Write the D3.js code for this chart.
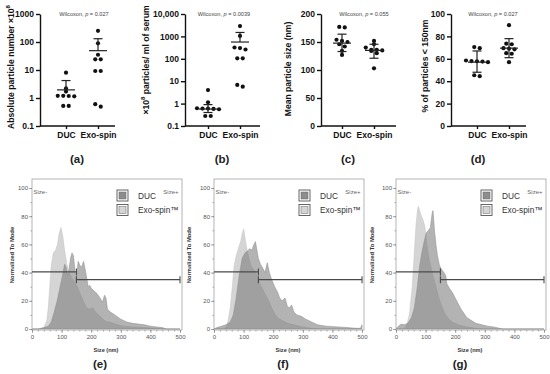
<!DOCTYPE html>
<html>
<head>
<script src="https://d3js.org/d3.v7.min.js"></script>
<style>
  body { margin: 0; background: #fff; }
  text { font-family: "Liberation Sans", Arial, sans-serif; }
</style>
</head>
<body>
<div id="chart"></div>
<script>
// ---- top row: dot plots ----
const groups = ["DUC", "Exo-spin"];

const aDuc = [8.0, 2.2, 1.7, 1.2, 1.18, 1.15, 1.2, 0.52, 0.52];
const aExo = [250, 90, 35, 24, 24, 9.2, 9.2, 0.49, 0.6];
const aMean = [1.95, 49], aHi = [4.2, 131], aLo = [null, null];

const bDuc = [4.0, 1.15, 0.62, 0.6, 0.58, 0.56, 0.6, 0.28, 0.28];
const bExo = [2900, 1050, 300, 320, 260, 105, 105, 5.7, 6.8];
const bMean = [0.57, 560], bHi = [0.9, 1500], bLo = [0.4, null];

const cDuc = [176, 177, 154, 152, 150, 146, 142, 134, 127];
const cExo = [152, 146, 140, 136, 136, 135, 134, 130, 103];
const cMean = [148, 135], cHi = [164, 146], cLo = [133, 121];

const dDuc = [70.5, 69.5, 58, 57.5, 57, 58.5, 57.8, 44.5, 45.3];
const dExo = [90, 73, 73.5, 69.5, 69, 68.5, 65, 64.5, 57];
const dMean = [57, 69.5], dHi = [67, 78], dLo = [48, 61];

const logTicksA = [0.1, 1, 10, 100, 1000];
const logTicksB = [0.1, 1, 10, 100, 1000, 10000];
const sizeTicks = [0, 50, 100, 150, 200];
const pctTicks = [0, 20, 40, 60, 80, 100];

// ---- bottom row: size distributions [size nm, % of mode] ----
const eExo = [[0,0],[30,0],[40,1],[50,6],[55,15],[60,30],[65,45],[72,54],[80,56],[86,60],[92,68],[98,72],[104,66],[110,56],[117,47],[125,40],[135,36],[145,33],[155,29],[165,24],[175,19],[185,15],[195,14],[205,15],[215,12],[225,10],[235,8],[245,6],[255,5],[265,5],[275,4],[290,3],[310,2],[340,1.5],[380,1],[420,0.5],[450,0],[500,0]];
const eDuc = [[0,0],[20,0],[40,1],[55,2],[65,5],[75,12],[85,20],[95,30],[105,40],[110,46],[115,44],[120,38],[125,42],[130,50],[135,54],[140,52],[145,42],[148,34],[152,40],[156,48],[162,45],[168,44],[174,48],[180,42],[185,36],[190,30],[195,31],[200,29],[210,27],[220,25],[230,22],[238,19],[245,24],[250,22],[255,14],[265,12],[280,10],[300,7],[320,5],[340,4],[360,3.5],[380,3],[400,2],[420,1.5],[440,1],[455,0],[500,0]];

const fExo = [[0,0],[35,0],[45,3],[55,15],[62,30],[68,45],[75,52],[82,57],[90,62],[96,68],[100,71],[104,66],[110,58],[118,50],[125,45],[135,42],[145,38],[155,32],[165,28],[175,24],[185,20],[195,15],[205,11],[215,8],[230,6],[250,4],[270,3],[300,1.5],[330,0.5],[360,0],[500,0]];
const fDuc = [[0,0],[10,1],[25,2],[40,3],[55,5],[65,10],[75,22],[85,38],[95,50],[105,54],[112,55],[120,57],[128,56],[135,60],[140,62],[145,56],[150,50],[157,46],[165,43],[172,40],[180,47],[187,40],[195,35],[205,30],[215,26],[222,22],[230,20],[240,22],[248,16],[255,15],[262,17],[270,12],[280,10],[295,9],[310,7],[330,5],[350,3],[380,2],[420,1.5],[450,1],[480,0.5],[495,0.5],[500,3]];

const gExo = [[0,0],[25,0],[35,2],[45,10],[55,30],[62,55],[68,75],[73,85],[76,87],[80,84],[86,80],[92,77],[98,72],[103,62],[110,52],[118,44],[125,38],[135,30],[145,22],[155,16],[165,11],[175,8],[190,5],[210,3],[240,1.5],[270,0.5],[300,0],[500,0]];
const gDuc = [[0,0],[8,2],[18,3.5],[28,3],[40,4],[52,8],[62,15],[72,30],[80,45],[88,55],[95,62],[102,68],[110,70],[116,72],[122,82],[125,84],[130,70],[135,60],[140,52],[147,45],[155,42],[162,40],[168,38],[172,32],[180,29],[190,26],[200,22],[210,18],[220,14],[230,11],[240,8],[255,6],[270,4],[290,3],[310,2],[330,1.5],[350,0.5],[360,0],[500,0]];

const gateLow = [0, 150], gateLowY = 40.5;
const gateHigh = [150, 500], gateHighY = 35;
const histXTicks = [0, 100, 200, 300, 400, 500];
const histYTicks = [0, 20, 40, 60, 80, 100];
const legendNames = ["DUC", "Exo-spin\u2122"];

const svg = d3.select("#chart").append("svg")
  .attr("width", 550).attr("height", 374)
  .style("background", "#fff");

function jitter(vals, y, step) {
  const pts = vals.map(v => ({ v, py: y(v) })).sort((a, b) => a.py - b.py);
  const out = [];
  let i = 0;
  while (i < pts.length) {
    let j = i;
    while (j + 1 < pts.length && pts[j + 1].py - pts[i].py < 3) j++;
    const n = j - i + 1;
    for (let k = 0; k < n; k++) out.push({ v: pts[i + k].v, dx: (k - (n - 1) / 2) * step });
    i = j + 1;
  }
  return out;
}

function dotPanel(o) {
  const g = svg.append("g");
  const y = o.log
    ? d3.scaleLog().domain(o.domain).range([126, 14])
    : d3.scaleLinear().domain(o.domain).range([126, 14]);
  const x = d3.scalePoint().domain(groups).range([o.left + o.off, o.left + o.off + 32]);

  const ya = g.append("g").attr("transform", `translate(${o.left},0)`)
    .call(d3.axisLeft(y).tickValues(o.ticks).tickFormat(o.fmt).tickSize(4).tickSizeOuter(0));
  const xa = g.append("g").attr("transform", "translate(0,126)")
    .call(d3.axisBottom(x).tickSize(3).tickSizeOuter(0));
  xa.select(".domain").attr("d", `M${o.left},0H${o.left + 75}`);
  [ya, xa].forEach(a => {
    a.selectAll("path,line").attr("stroke", "#111").attr("stroke-width", 1.4);
    a.selectAll("text").attr("fill", "#111").style("font-weight", "bold")
      .style("font-size", "8.5px").style("font-family", "Liberation Sans, Arial");
  });
  ya.selectAll("text").attr("x", -6);
  xa.selectAll("text").attr("y", 6);

  [o.duc, o.exo].forEach((vals, gi) => {
    const cx = x(groups[gi]);
    g.selectAll(null).data(jitter(vals, y, 5.5)).join("circle")
      .attr("cx", d => cx + d.dx).attr("cy", d => y(d.v)).attr("r", 2.1).attr("fill", "#111");
    const m = y(o.mean[gi]);
    g.append("line").attr("x1", cx - 9).attr("x2", cx + 9).attr("y1", m).attr("y2", m)
      .attr("stroke", "#222").attr("stroke-width", 1.2);
    [o.hi[gi], o.lo[gi]].forEach(v => {
      if (v == null) return;
      g.append("line").attr("x1", cx).attr("x2", cx).attr("y1", m).attr("y2", y(v))
        .attr("stroke", "#222").attr("stroke-width", 1.2);
      g.append("line").attr("x1", cx - 4.5).attr("x2", cx + 4.5).attr("y1", y(v)).attr("y2", y(v))
        .attr("stroke", "#222").attr("stroke-width", 1.2);
    });
  });

  const w = g.append("text").attr("x", o.wx).attr("y", 16).attr("text-anchor", "middle")
    .style("font-size", "5.6px").attr("fill", "#444");
  w.append("tspan").text("Wilcoxon, ");
  w.append("tspan").style("font-style", "italic").text("p");
  w.append("tspan").text(" = " + o.p);

  const t = g.append("text")
    .attr("transform", `translate(${o.tx},${o.ty}) rotate(-90)`)
    .attr("text-anchor", "middle").attr("dominant-baseline", "central")
    .style("font-size", "8.6px").style("font-weight", "bold").attr("fill", "#111");
  o.title.forEach(part => {
    const s = t.append("tspan").text(part[0]);
    if (part[1]) s.attr("baseline-shift", "super").style("font-size", "6px");
  });
}

const logFmt = d => d < 1 ? "0.1" : d >= 10000 ? d3.format(",")(d) : String(d);

dotPanel({ left: 40, off: 26, log: true, domain: [0.1, 1000], ticks: logTicksA, fmt: logFmt,
  duc: aDuc, exo: aExo, mean: aMean, hi: aHi, lo: aLo, wx: 84, p: "0.027",
  tx: 11, ty: 67, title: [["Absolute particle number \u00d710"], ["8", true]] });
dotPanel({ left: 185, off: 23, log: true, domain: [0.1, 10000], ticks: logTicksB, fmt: logFmt,
  duc: bDuc, exo: bExo, mean: bMean, hi: bHi, lo: bLo, wx: 224, p: "0.0039",
  tx: 146, ty: 60, title: [["\u00d710"], ["8", true], [" particles/ ml of serum"]] });
dotPanel({ left: 321, off: 21, log: false, domain: [0, 200], ticks: sizeTicks, fmt: d3.format("d"),
  duc: cDuc, exo: cExo, mean: cMean, hi: cHi, lo: cLo, wx: 364, p: "0.055",
  tx: 288, ty: 69, title: [["Mean particle size (nm)"]] });
dotPanel({ left: 451, off: 26, log: false, domain: [0, 100], ticks: pctTicks, fmt: d3.format("d"),
  duc: dDuc, exo: dExo, mean: dMean, hi: dHi, lo: dLo, wx: 493, p: "0.027",
  tx: 425, ty: 66, title: [["% of particles < 150nm"]] });

function histPanel(o) {
  const g = svg.append("g");
  const x = d3.scaleLinear().domain([0, 500]).range([o.left, o.left + 148]);
  const y = d3.scaleLinear().domain([0, 100]).range([329, 188]);

  g.append("rect").attr("x", o.left).attr("y", 179).attr("width", 150).attr("height", 151)
    .attr("fill", "none").attr("stroke", "#a3a3a3").attr("stroke-width", 0.8);

  const area = d3.area().x(d => x(d[0])).y0(y(0)).y1(d => y(d[1]));
  g.append("path").datum(o.exo).attr("d", area)
    .attr("fill", "#d5d5d5").attr("stroke", "#c2c2c2").attr("stroke-width", 0.5);
  g.append("path").datum(o.duc).attr("d", area)
    .attr("fill", "#757575").attr("fill-opacity", 0.55).attr("stroke", "#8a8a8a").attr("stroke-width", 0.5);

  const yl = g.append("g").attr("transform", `translate(${o.left},0)`)
    .call(d3.axisLeft(y).tickValues(histYTicks).tickSize(3));
  const ym = g.append("g").attr("transform", `translate(${o.left},0)`)
    .call(d3.axisLeft(y).tickValues(d3.range(0, 101, 10)).tickSize(1.5).tickFormat(""));
  const xl = g.append("g").attr("transform", "translate(0,330)")
    .call(d3.axisBottom(x).tickValues(histXTicks).tickSize(3));
  const xm = g.append("g").attr("transform", "translate(0,330)")
    .call(d3.axisBottom(x).tickValues(d3.range(0, 501, 20)).tickSize(1.5).tickFormat(""));
  [yl, ym, xl, xm].forEach(a => {
    a.select(".domain").remove();
    a.selectAll("line").attr("stroke", "#777").attr("stroke-width", 0.6);
    a.selectAll("text").attr("fill", "#555").style("font-size", "6px");
  });
  yl.selectAll("text").attr("x", -4);
  xl.selectAll("text").attr("y", 5);

  // gates
  const gate = (rng, v, leftTick) => {
    const gy = y(v);
    g.append("line").attr("x1", x(rng[0])).attr("x2", x(rng[1])).attr("y1", gy).attr("y2", gy)
      .attr("stroke", "#4a4a4a").attr("stroke-width", 1.1);
    const ends = leftTick ? rng : [rng[1]];
    ends.forEach(e => g.append("line").attr("x1", x(e)).attr("x2", x(e))
      .attr("y1", gy - 3.5).attr("y2", gy + 3.5).attr("stroke", "#4a4a4a").attr("stroke-width", 1.1));
  };
  gate(gateLow, gateLowY, false);
  gate(gateHigh, gateHighY, true);

  g.append("text").attr("x", x(5)).attr("y", y(96)).text("Size-")
    .style("font-size", "6px").attr("fill", "#666");
  g.append("text").attr("x", x(495)).attr("y", y(96)).attr("text-anchor", "end").text("Size+")
    .style("font-size", "6px").attr("fill", "#666");

  // legend
  legendNames.forEach((name, i) => {
    const ly = 190 + i * 14.5;
    g.append("rect").attr("x", o.left + 85).attr("y", ly).attr("width", 11).attr("height", 11)
      .attr("fill", "#fff").attr("stroke", "#555").attr("stroke-width", 0.9);
    g.append("rect").attr("x", o.left + 87).attr("y", ly + 2).attr("width", 7).attr("height", 7)
      .attr("fill", i === 0 ? "#8d8d8d" : "#d5d5d5").attr("stroke", "#666").attr("stroke-width", 0.5);
    g.append("text").attr("x", o.left + 106).attr("y", ly + 8.5).text(name)
      .style("font-size", "8.3px").attr("fill", "#333");
  });

  g.append("text").attr("x", o.left + 74).attr("y", 352).attr("text-anchor", "middle")
    .text("Size (nm)").style("font-size", "5.6px").style("font-weight", "bold").attr("fill", "#333");
  g.append("text").attr("transform", `translate(${o.tx},255) rotate(-90)`)
    .attr("text-anchor", "middle").attr("dominant-baseline", "central")
    .text("Normalized To Mode").style("font-size", "5.8px").style("font-weight", "bold").attr("fill", "#333");
}

histPanel({ left: 32, exo: eExo, duc: eDuc, tx: 12 });
histPanel({ left: 214, exo: fExo, duc: fDuc, tx: 189 });
histPanel({ left: 396, exo: gExo, duc: gDuc, tx: 372 });

// panel letters
const letters = ["(a)", "(b)", "(c)", "(d)", "(e)", "(f)", "(g)"];
const letterX = [77, 222, 348, 478, 100, 283, 460];
const letterY = [163, 163, 163, 163, 368, 368, 368];
svg.selectAll(".letter").data(letters).join("text").attr("class", "letter")
  .attr("x", (d, i) => letterX[i]).attr("y", (d, i) => letterY[i])
  .attr("text-anchor", "middle").text(d => d)
  .style("font-size", "11.5px").style("font-weight", "bold").attr("fill", "#222");
</script>
</body>
</html>
